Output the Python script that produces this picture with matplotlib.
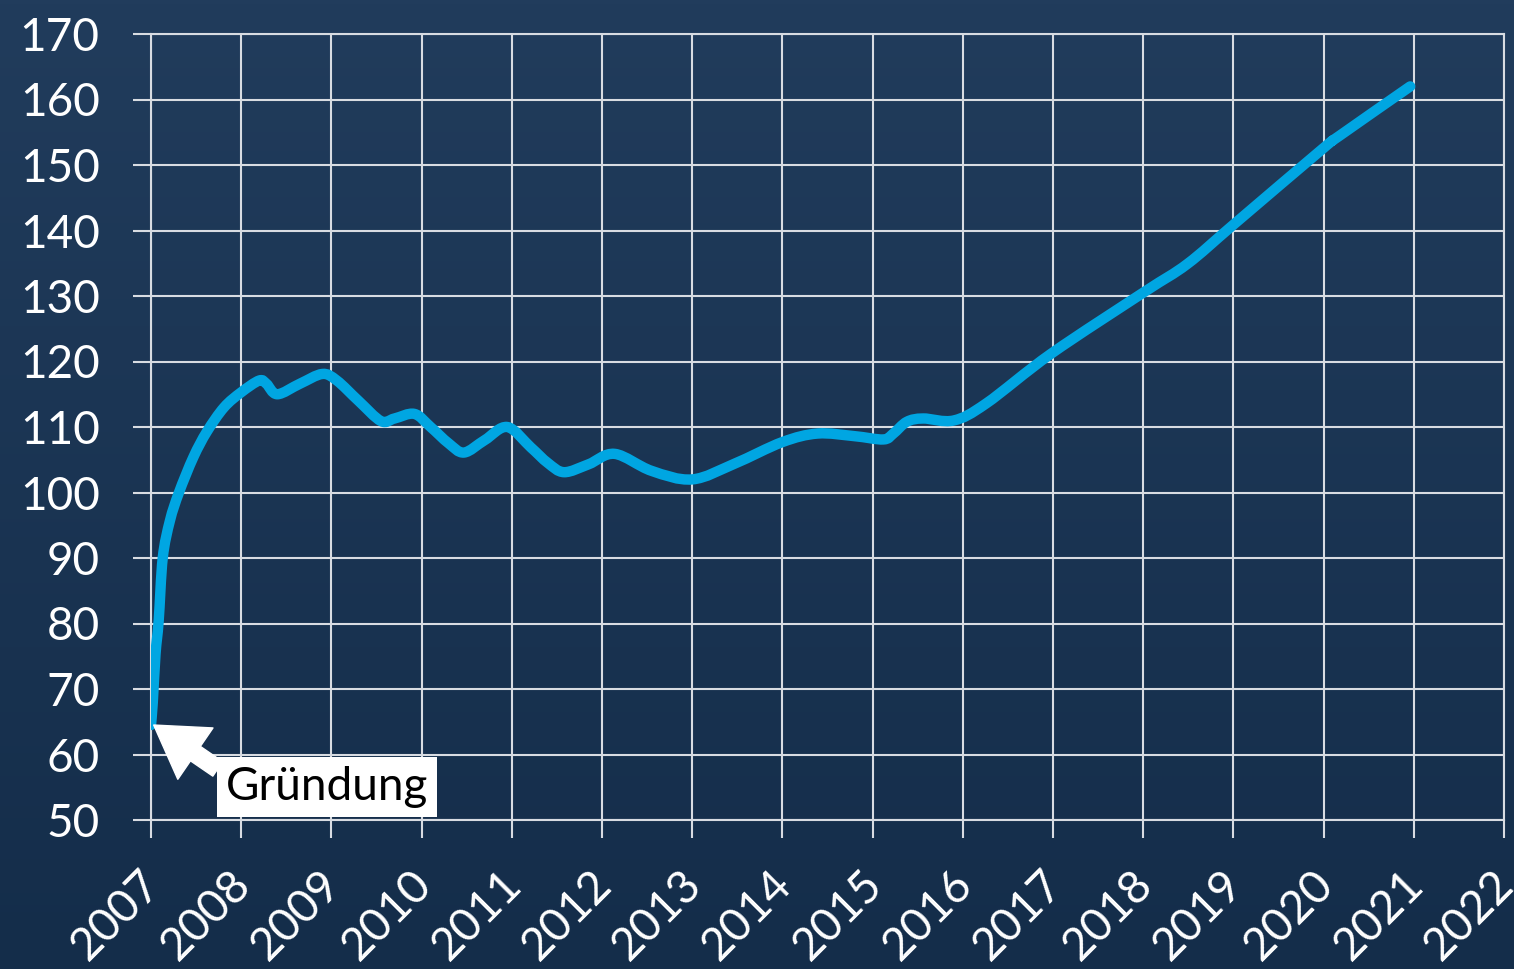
import numpy as np
import matplotlib
matplotlib.use("Agg")
import matplotlib.pyplot as plt
from matplotlib.path import Path
from matplotlib.patches import PathPatch
import matplotlib.transforms as mtransforms

# ---- data ----
years = [2007.0, 2007.02, 2007.05, 2007.085, 2007.13, 2007.21, 2007.31, 2007.47,
         2007.62, 2007.81, 2008.0, 2008.2, 2008.28, 2008.4, 2008.65, 2008.9,
         2009.06, 2009.3, 2009.55, 2009.7, 2009.92, 2010.1, 2010.3, 2010.47,
         2010.7, 2010.95, 2011.21, 2011.4, 2011.58, 2011.85, 2012.14, 2012.55,
         2013.0, 2013.47, 2014.0, 2014.39, 2014.8, 2015.12, 2015.23, 2015.38,
         2015.56, 2015.9, 2016.26, 2016.98, 2018.01, 2018.49, 2019.01, 2020.0,
         2020.17, 2020.96]
values = [64.5, 68.0, 75.3, 80.4, 90.0, 95.7, 100.0, 105.4,
          109.3, 113.0, 115.3, 117.1, 116.6, 115.0, 116.6, 118.1,
          117.1, 114.0, 110.9, 111.3, 112.0, 110.0, 107.5, 106.1,
          108.0, 110.0, 106.9, 104.5, 103.1, 104.3, 105.9, 103.3,
          102.0, 104.4, 107.7, 109.0, 108.6, 108.1, 109.0, 110.8,
          111.3, 111.0, 113.6, 121.2, 130.6, 134.9, 141.0, 152.6,
          154.4, 162.0]
x_ticks = list(range(2007, 2023))
y_ticks = list(range(50, 171, 10))
annotation_text = "Gründung"

# ---- figure ----
W, H, DPI = 1514, 969, 100
fig = plt.figure(figsize=(W / DPI, H / DPI), dpi=DPI)
plt.rcParams['font.family'] = ['Lato', 'DejaVu Sans']

# background gradient
bg = fig.add_axes([0, 0, 1, 1], zorder=-10)
grad = np.linspace(0, 1, 256).reshape(-1, 1)
top = np.array([0x21, 0x3c, 0x5c]) / 255
bot = np.array([0x14, 0x2d, 0x4a]) / 255
img = top + (bot - top) * grad[..., None]
bg.imshow(img, aspect='auto', extent=[0, 1, 0, 1])
bg.axis('off')

ax = fig.add_axes([151 / W, 1 - 820 / H, (1504 - 151) / W, (820 - 34) / H])
ax.patch.set_alpha(0)

grid_col = '#d8dce2'
ax.set_xlim(2007, 2022)
ax.set_ylim(50, 170)
ax.set_xticks(x_ticks)
ax.set_yticks(y_ticks)
ax.grid(True, color=grid_col, lw=1.5)
for s in ax.spines.values():
    s.set_color(grid_col)
    s.set_linewidth(1.5)
ax.tick_params(axis='both', direction='out', length=13, width=1.5,
               color=grid_col, labelcolor='white', labelsize=33)
ax.tick_params(axis='y', pad=24)
ax.tick_params(axis='x', pad=18)
ax.set_xticklabels([str(t) for t in x_ticks], rotation=45, ha='right',
                   va='top', rotation_mode='anchor')
ax.set_yticklabels([str(t) for t in y_ticks])
offset = mtransforms.ScaledTranslation(-12 / DPI, 0, fig.dpi_scale_trans)
for lab in ax.get_xticklabels():
    lab.set_transform(lab.get_transform() + offset)

# smoothed line (Catmull-Rom -> cubic Bezier through the read points)
P = np.column_stack([years, values])
verts = [tuple(P[0])]
codes = [Path.MOVETO]
n = len(P)
for i in range(n - 1):
    p0 = P[i - 1] if i > 0 else P[i]
    p1 = P[i]
    p2 = P[i + 1]
    p3 = P[i + 2] if i + 2 < n else P[i + 1]
    c1 = p1 + (p2 - p0) / 6.0
    c2 = p2 - (p3 - p1) / 6.0
    verts += [tuple(c1), tuple(c2), tuple(p2)]
    codes += [Path.CURVE4] * 3
path = Path(verts, codes)
line = PathPatch(path, fc='none', ec='#00a6e2', lw=7.5, capstyle='round',
                 joinstyle='round', zorder=5, transform=ax.transData)
ax.add_patch(line)

# annotation
ax.text(2008.95, 55, annotation_text, fontsize=33, color='black',
        ha='center', va='center', zorder=6,
        bbox=dict(boxstyle='square,pad=0.2', fc='white', ec='none'))
ax.annotate('', xy=(years[0] + 0.03, values[0]), xytext=(2007.74, 57.8),
            xycoords='data', textcoords='data', zorder=7,
            arrowprops=dict(arrowstyle='simple,head_length=1.3,head_width=1.6,tail_width=0.45',
                            fc='white', ec='white', mutation_scale=28,
                            shrinkA=0, shrinkB=0))

fig.savefig('out.png', dpi=DPI)
